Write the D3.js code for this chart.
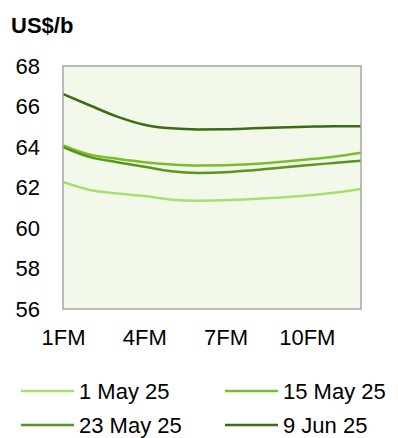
<!DOCTYPE html>
<html>
<head>
<meta charset="utf-8">
<script src="https://cdn.jsdelivr.net/npm/d3@7"></script>
<style>
  html, body { margin: 0; padding: 0; background: #fff; }
  svg { display: block; font-family: "Liberation Sans", Arial, sans-serif; }
</style>
</head>
<body>
<svg id="chart" width="398" height="438"></svg>
<script>
// Forward-month curve points (1FM .. 12FM), US$ per barrel
const months = ["1FM","2FM","3FM","4FM","5FM","6FM","7FM","8FM","9FM","10FM","11FM","12FM"];
const tickMonths = ["1FM","4FM","7FM","10FM"];
const yTicks = [56, 58, 60, 62, 64, 66, 68];

const may01 = [62.27, 61.88, 61.71, 61.58, 61.40, 61.35, 61.37, 61.43, 61.51, 61.61, 61.74, 61.93];
const may15 = [64.08, 63.62, 63.42, 63.25, 63.14, 63.09, 63.10, 63.16, 63.26, 63.38, 63.52, 63.72];
const may23 = [64.00, 63.50, 63.25, 63.02, 62.80, 62.72, 62.75, 62.85, 62.98, 63.10, 63.21, 63.32];
const jun09 = [66.62, 66.05, 65.50, 65.10, 64.92, 64.87, 64.88, 64.92, 64.96, 65.00, 65.03, 65.03];

const seriesNames = ["1 May 25", "15 May 25", "23 May 25", "9 Jun 25"];
const seriesValues = [may01, may15, may23, jun09];
const colors = ["#a6df6c", "#78bf2b", "#5a961f", "#3d6a13"];

const FONT = "'Liberation Sans', Arial, sans-serif";
const FS = 22;

const svg = d3.select("#chart");
const plot = { left: 63, right: 361, top: 66, bottom: 309 };

const x = d3.scalePoint().domain(months).range([plot.left, plot.right]);
const y = d3.scaleLinear().domain([56, 68]).range([plot.bottom, plot.top]);

// unit label
svg.append("text")
  .attr("x", 11).attr("y", 33)
  .attr("font-size", FS).attr("font-weight", "bold")
  .attr("fill", "#000")
  .text("US$/b");

// plot background
svg.append("rect")
  .attr("x", plot.left).attr("y", plot.top)
  .attr("width", plot.right - plot.left).attr("height", plot.bottom - plot.top)
  .attr("fill", "#f3f9ea");

// y axis labels
const yAxis = d3.axisLeft(y).tickValues(yTicks).tickSize(0).tickPadding(23);
const gy = svg.append("g").attr("transform", `translate(${plot.left},0)`).call(yAxis);
gy.select(".domain").remove();
gy.selectAll("text").attr("font-size", FS).attr("fill", "#000").attr("font-family", FONT);

// x axis labels
const xAxis = d3.axisBottom(x).tickValues(tickMonths).tickSize(0).tickPadding(20);
const gx = svg.append("g").attr("transform", `translate(0,${plot.bottom})`).call(xAxis);
gx.select(".domain").remove();
gx.selectAll("text").attr("font-size", FS).attr("fill", "#000").attr("font-family", FONT);

// series lines
const line = d3.line()
  .x((d, i) => x(months[i]))
  .y(d => y(d))
  .curve(d3.curveMonotoneX);

seriesValues.forEach((vals, k) => {
  svg.append("path")
    .datum(vals)
    .attr("d", line)
    .attr("fill", "none")
    .attr("stroke", colors[k])
    .attr("stroke-width", 2.5);
});

// plot frame
svg.append("rect")
  .attr("x", plot.left).attr("y", plot.top)
  .attr("width", plot.right - plot.left).attr("height", plot.bottom - plot.top)
  .attr("fill", "none")
  .attr("stroke", "#a6a6a6")
  .attr("stroke-width", 1.5);

// legend (two rows, two columns)
const legendPos = [
  { lx: 21, ty: 391 }, { lx: 225, ty: 391 },
  { lx: 21, ty: 425 }, { lx: 225, ty: 425 }
];
seriesNames.forEach((name, k) => {
  const p = legendPos[k];
  svg.append("line")
    .attr("x1", p.lx).attr("x2", p.lx + 53)
    .attr("y1", p.ty).attr("y2", p.ty)
    .attr("stroke", colors[k]).attr("stroke-width", 2.5);
  svg.append("text")
    .attr("x", p.lx + 58).attr("y", p.ty)
    .attr("dy", "0.35em")
    .attr("font-size", FS).attr("fill", "#000")
    .text(name);
});
</script>
</body>
</html>
